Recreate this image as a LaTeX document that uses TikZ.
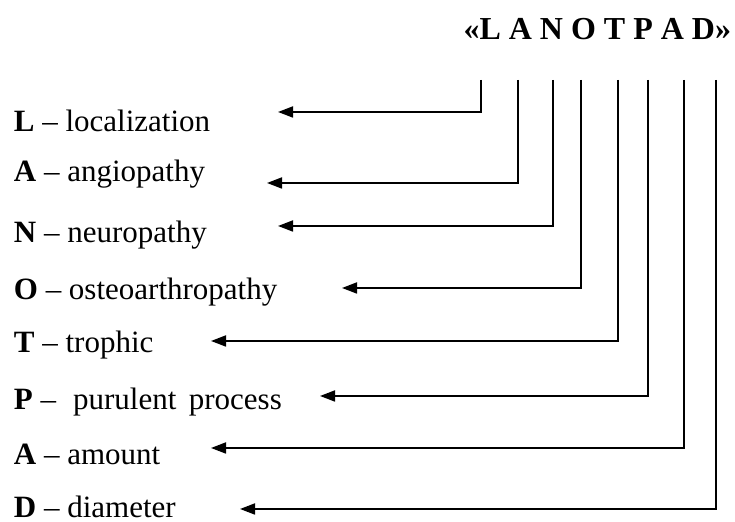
\documentclass[tikz,border=0pt]{standalone}
\usepackage{fontspec}
\setmainfont{Liberation Serif}
\usetikzlibrary{arrows.meta}

\begin{document}
\begin{tikzpicture}[x=0.5pt,y=-0.5pt,->,>={Triangle[length=7.5pt,width=5.5pt]},
	line width=0.9pt]
	\tikzstyle{item}=[anchor=base west,inner sep=0pt,font=\fontsize{15.5}{18}\selectfont]
	\tikzstyle{title}=[anchor=base east,inner sep=0pt,font=\bfseries\fontsize{16}{19}\selectfont]
	\useasboundingbox (0,0) rectangle (735,522);
	% abbreviation
	\node[title] (T) at (732,40) {«L A N O T P A D»};
	% legend lines
	\node[item] (loc) at (13,132) {\textbf{L} – localization};
	\node[item] (ang) at (13,182) {\textbf{A} – angiopathy};
	\node[item] (neu) at (13,243) {\textbf{N} – neuropathy};
	\node[item] (ost) at (13,300) {\textbf{O} – osteoarthropathy};
	\node[item] (tro) at (13,353) {\textbf{T} – trophic};
	\node[item] (pur) at (13,410) {\textbf{P} –\hspace{0.3em} purulent\hspace{0.15em} process};
	\node[item] (amo) at (13,465) {\textbf{A} – amount};
	\node[item] (dia) at (13,518) {\textbf{D} – diameter};
	% line starts under the letters
	\coordinate (L) at (481,80);
	\coordinate (A) at (518,80);
	\coordinate (N) at (553,80);
	\coordinate (O) at (581,80);
	\coordinate (Tr) at (618,80);
	\coordinate (P) at (648,80);
	\coordinate (Am) at (684,80);
	\coordinate (D) at (716,80);
	% arrow tips
	\coordinate (hloc) at (278,112);
	\coordinate (hang) at (267,183);
	\coordinate (hneu) at (278,226);
	\coordinate (host) at (342,288);
	\coordinate (htro) at (211,341);
	\coordinate (hpur) at (320,396);
	\coordinate (hamo) at (211,448);
	\coordinate (hdia) at (240,509);
	
	\draw (L) |- (hloc);
	\draw (A) |- (hang);
	\draw (N) |- (hneu);
	\draw (O) |- (host);
	\draw (Tr) |- (htro);
	\draw (P) |- (hpur);
	\draw (Am) |- (hamo);
	\draw (D) |- (hdia);
\end{tikzpicture}
\end{document}
